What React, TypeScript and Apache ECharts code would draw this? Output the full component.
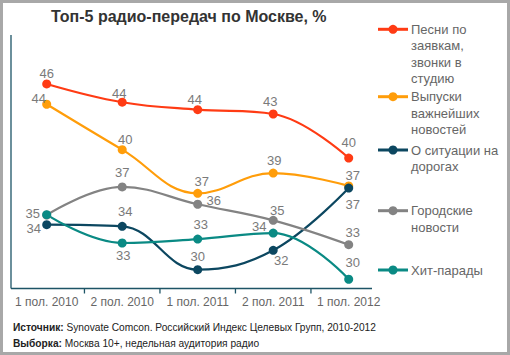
import React, { useEffect, useRef } from 'react';
import * as echarts from 'echarts';

const categories = ['1 пол. 2010', '2 пол. 2010', '1 пол. 2011', '2 пол. 2011', '1 пол. 2012'];

const songsRequests = [45.94, 44.42, 43.8, 43.44, 39.77];
const newsBulletins = [44.25, 40.47, 36.83, 38.52, 37.45];
const trafficInfo = [34.22, 34.08, 30.47, 32.08, 37.27];
const cityNews = [35.02, 37.36, 35.92, 34.58, 32.55];
const hitParades = [35.05, 32.69, 33.02, 33.52, 29.67];

const seriesNames = [
  'Песни по заявкам, звонки в студию',
  'Выпуски важнейших новостей',
  'О ситуации на дорогах',
  'Городские новости',
  'Хит-парады',
];
const legendLines = [
  'Песни по\nзаявкам,\nзвонки в\nстудию',
  'Выпуски\nважнейших\nновостей',
  'О ситуации на\nдорогах',
  'Городские\nновости',
  'Хит-парады',
];
const seriesValues = [songsRequests, newsBulletins, trafficInfo, cityNews, hitParades];
const seriesColors = ['#ff3b14', '#ff9d0a', '#0c4760', '#838383', '#0a8a84'];

// label placement relative to each point (layout only)
const labelOffsets: (number[] | null)[][] = [
  [[0, -10], [-3, -9], [-3, -10], [-3, -12], [0, -16]],
  [[-8, -6], [3, -10], [4, -12], [1, -13], [4, -10]],
  [[-13, 4], [3, -15], [0, -13], [8, 10], [4, 16]],
  [[-14, -2], [0, -14], [16, -4], [4, -10], [4, -12]],
  [null, [1, 12], [3, -15], [-14, -7], [4, -17]],
];
const legendY = [29.3, 96.7, 150, 210.7, 270];

export default function App() {
  const ref = useRef<HTMLDivElement>(null);
  useEffect(() => {
    const chart = echarts.init(ref.current!, null, { renderer: 'svg' });
    const font = 'Arial, "Liberation Sans", sans-serif';
    const gridLeft = 8.95;
    const gridTop = 35;
    const axisY = 288.5;
    const plotW = 377.5;
    const axisColor = '#1d5466';

    chart.setOption({
      animation: false,
      backgroundColor: '#ffffff',
      title: {
        text: 'Топ-5 радио-передач по Москве, %',
        left: 51,
        top: 8,
        padding: 0,
        textStyle: { fontSize: 16, fontWeight: 'bold', color: '#333333', fontFamily: font },
      },
      grid: { left: gridLeft, top: gridTop, width: plotW, height: axisY - gridTop, containLabel: false },
      xAxis: {
        type: 'category',
        data: categories,
        boundaryGap: true,
        axisLine: { show: false },
        axisTick: { show: false },
        axisLabel: { interval: 0, margin: 7, fontSize: 12, color: '#666666', fontFamily: font },
      },
      yAxis: { type: 'value', min: 28.9, max: 50.02, show: false, splitLine: { show: false } },
      series: seriesNames.map((name, s) => ({
        name,
        type: 'line',
        smooth: 0.4,
        symbol: 'circle',
        symbolSize: 9,
        lineStyle: { color: seriesColors[s], width: 2.2 },
        itemStyle: { color: seriesColors[s] },
        label: {
          show: true,
          position: 'inside',
          fontSize: 13,
          color: '#7a7a7a',
          fontFamily: font,
          formatter: (p: any) => String(Math.round(p.value)),
        },
        data: seriesValues[s].map((v, i) => {
          const off = labelOffsets[s][i];
          return off ? { value: v, label: { offset: off } } : { value: v, label: { show: false } };
        }),
      })),
    });

    const px = categories.map((c) => chart.convertToPixel({ xAxisIndex: 0 }, c) as number);
    const ticks: any[] = [];
    for (let i = 0; i < px.length - 1; i++) {
      const m = (px[i] + px[i + 1]) / 2;
      ticks.push({ type: 'line', shape: { x1: m, y1: axisY, x2: m, y2: axisY + 5 }, style: { stroke: axisColor, lineWidth: 1.3 } });
    }
    const legend = legendLines.map((txt, s) => ({
      type: 'group',
      children: [
        { type: 'line', shape: { x1: 378, y1: legendY[s], x2: 408, y2: legendY[s] }, style: { stroke: seriesColors[s], lineWidth: 3 } },
        { type: 'circle', shape: { cx: 393, cy: legendY[s], r: 4.5 }, style: { fill: seriesColors[s] } },
        {
          type: 'text',
          style: {
            text: txt, x: 411, y: legendY[s] - 8.25, verticalAlign: 'top',
            fontSize: 13, fontFamily: font, lineHeight: 16.5, fill: '#666666',
          },
        },
      ],
    }));

    chart.setOption({
      graphic: [
        { type: 'rect', shape: { x: 1.5, y: 1.5, width: 507, height: 352 }, style: { fill: 'none', stroke: '#a8a8a8', lineWidth: 3 }, silent: true },
        { type: 'line', shape: { x1: 11, y1: gridTop, x2: 11, y2: axisY }, style: { stroke: axisColor, lineWidth: 1.3 } },
        { type: 'line', shape: { x1: 11, y1: axisY, x2: 372, y2: axisY }, style: { stroke: axisColor, lineWidth: 1.3 } },
        ...ticks,
        ...legend,
        {
          type: 'text',
          style: {
            text: '{b|Источник:} Synovate Comcon. Российский Индекс Целевых Групп, 2010-2012',
            x: 13, y: 327.7, verticalAlign: 'middle', fontSize: 10.2, fontFamily: font, fill: '#222222',
            rich: { b: { fontWeight: 'bold', fontSize: 10.2, fontFamily: font, fill: '#222222' } },
          },
        },
        {
          type: 'text',
          style: {
            text: '{b|Выборка:} Москва 10+, недельная аудитория радио',
            x: 13, y: 343.3, verticalAlign: 'middle', fontSize: 10.2, fontFamily: font, fill: '#222222',
            rich: { b: { fontWeight: 'bold', fontSize: 10.2, fontFamily: font, fill: '#222222' } },
          },
        },
      ],
    });

    return () => chart.dispose();
  }, []);
  return <div ref={ref} style={{ position: 'fixed', left: 0, top: 0, width: 510, height: 355 }} />;
}
